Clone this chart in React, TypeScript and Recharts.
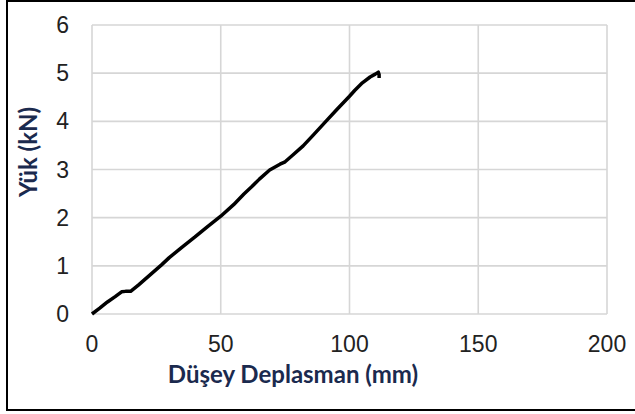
import { LineChart, Line, XAxis, YAxis, CartesianGrid, Label } from 'recharts';

// displacement (mm) and load (kN)
const DISP = [0, 3, 6, 9, 11.5, 13, 15, 18, 21, 24, 27, 30, 35, 40, 45, 50, 55, 59, 62, 65, 69, 73, 75, 78, 82, 86, 91, 95, 100, 102, 105, 108, 110, 111.2, 111.5, 111.5];
const LOAD = [0, 0.12, 0.25, 0.36, 0.46, 0.47, 0.47, 0.6, 0.74, 0.88, 1.02, 1.17, 1.39, 1.6, 1.82, 2.03, 2.27, 2.49, 2.64, 2.8, 2.99, 3.11, 3.16, 3.3, 3.49, 3.72, 4.01, 4.24, 4.52, 4.64, 4.8, 4.92, 4.98, 5.02, 4.97, 4.9];
const X_TICKS = [0, 50, 100, 150, 200];
const Y_TICKS = [0, 1, 2, 3, 4, 5, 6];

const data = DISP.map((d, i) => ({ disp: d, load: LOAD[i] }));

const tickStyle = { fontSize: 23, fill: '#222', fontFamily: '"Liberation Sans", Arial, sans-serif' };
const titleColor = '#1b2a4e';
const titleFont = 'Lato, "Open Sans", sans-serif';

export default function App() {
    return (
        <div style={{ position: 'absolute', left: 0, top: 0, width: 635, height: 414, background: '#fff', overflow: 'hidden' }}>
            <div style={{ position: 'absolute', left: 6, top: 0, width: 660, height: 411, border: '2px solid #000', boxSizing: 'border-box' }} />
            <LineChart width={635} height={414} data={data} margin={{ top: 25, right: 28, bottom: 0, left: 0 }}>
                <CartesianGrid stroke="#d6d6d6" strokeWidth={1.6} />
                <XAxis
                    dataKey="disp" type="number" domain={[0, 200]} ticks={X_TICKS}
                    height={100} axisLine={false} tickLine={false} tickSize={0} tickMargin={22}
                    tick={tickStyle}
                >
                    <Label content={() => (
                        <text x={293} y={383} textAnchor="middle" fill={titleColor}
                            style={{ fontSize: 24, fontWeight: 700, fontFamily: titleFont }}>
                            Düşey Deplasman (mm)
                        </text>
                    )} />
                </XAxis>
                <YAxis
                    type="number" domain={[0, 6]} ticks={Y_TICKS}
                    width={92} axisLine={false} tickLine={false} tickSize={0} tickMargin={23}
                    tick={tickStyle}
                >
                    <Label content={() => (
                        <text x={27} y={152} textAnchor="middle" dominantBaseline="central" fill={titleColor}
                            transform="rotate(-90 27 152)"
                            style={{ fontSize: 24, fontWeight: 700, fontFamily: titleFont }}>
                            Yük (kN)
                        </text>
                    )} />
                </YAxis>
                <Line dataKey="load" type="linear" stroke="#000" strokeWidth={3.5} strokeLinejoin="round" dot={false} isAnimationActive={false} />
            </LineChart>
        </div>
    );
}
